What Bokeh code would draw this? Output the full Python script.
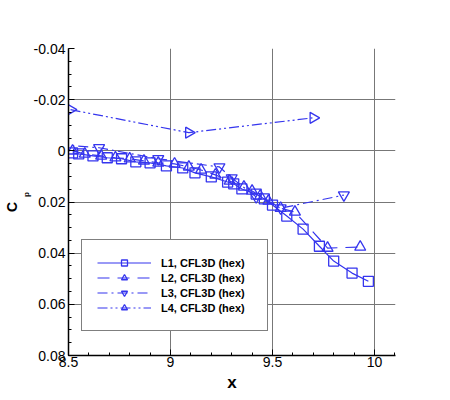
import numpy as np
from bokeh.plotting import figure
from bokeh.models import Range1d, FixedTicker, Legend, LegendItem, Title
from bokeh.embed import file_html
from bokeh.resources import INLINE

# ---- data ----
L1_x = [8.52, 8.55, 8.62, 8.69, 8.76, 8.83, 8.90, 8.98, 9.06, 9.12, 9.20, 9.28,
        9.31, 9.35, 9.42, 9.46, 9.50, 9.57, 9.65, 9.73, 9.80, 9.89, 9.97]
L1_y = [0.0008, 0.0012, 0.0020, 0.0027, 0.0031, 0.0043, 0.0047, 0.0059, 0.0067,
        0.0086, 0.0102, 0.0122, 0.0129, 0.0149, 0.0169, 0.0188, 0.0212, 0.0255,
        0.0306, 0.0373, 0.0431, 0.0478, 0.0510]

L2_x = [8.52, 8.58, 8.66, 8.73, 8.80, 8.87, 8.94, 9.02, 9.09, 9.15, 9.22, 9.29,
        9.36, 9.40, 9.44, 9.48, 9.54, 9.61, 9.77, 9.93]
L2_y = [0.0000, 0.0012, 0.0020, 0.0027, 0.0031, 0.0039, 0.0047, 0.0051, 0.0063,
        0.0075, 0.0094, 0.0118, 0.0141, 0.0157, 0.0176, 0.0196, 0.0224, 0.0239,
        0.0380, 0.0376]

L3_x = [8.45, 8.65, 8.94, 9.24, 9.30, 9.42, 9.54, 9.85]
L3_y = [-0.0024, -0.0012, 0.0031, 0.0063, 0.0106, 0.0180, 0.0224, 0.0173]

L4_x = [8.51, 9.09, 9.70]
L4_y = [-0.0161, -0.0071, -0.0129]

series_names = ["L1, CFL3D (hex)", "L2, CFL3D (hex)", "L3, CFL3D (hex)", "L4, CFL3D (hex)"]

x_ticks = [8.5, 9.0, 9.5, 10.0]
x_tick_labels = ["8.5", "9", "9.5", "10"]
y_ticks = [-0.04, -0.02, 0.0, 0.02, 0.04, 0.06, 0.08]
y_tick_labels = ["-0.04", "-0.02", "0", "0.02", "0.04", "0.06", "0.08"]
x_minor = [round(v, 2) for v in np.arange(8.5, 10.11, 0.1)]
y_minor = [round(v, 4) for v in np.arange(-0.04, 0.0801, 0.005)]

x_label = "x"
y_label_main = "C"
y_label_sub = "p"

BLUE = "#3535ee"
FONT = "Liberation Sans"

p = figure(frame_width=327, frame_height=307,
           x_range=Range1d(8.5, 10.103), y_range=Range1d(0.08, -0.04),
           output_backend="svg", toolbar_location=None,
           min_border_left=68, min_border_right=47,
           min_border_top=48, min_border_bottom=37)
p.outline_line_color = None
p.background_fill_color = "white"
p.border_fill_color = "white"

p.xaxis.ticker = FixedTicker(ticks=x_ticks, minor_ticks=x_minor)
p.yaxis.ticker = FixedTicker(ticks=y_ticks, minor_ticks=y_minor)
p.xgrid.ticker = FixedTicker(ticks=x_ticks)
p.ygrid.ticker = FixedTicker(ticks=y_ticks)
p.grid.grid_line_color = "#777777"
p.grid.grid_line_width = 1

for ax in (p.xaxis[0], p.yaxis[0]):
    ax.axis_line_color = "black"
    ax.axis_line_width = 1.5
    ax.major_tick_in = 6
    ax.major_tick_out = 0
    ax.minor_tick_in = 3
    ax.minor_tick_out = 0
    ax.major_tick_line_color = "black"
    ax.minor_tick_line_color = "black"
    ax.major_label_text_font = FONT
    ax.major_label_text_font_size = "14px"
    ax.major_label_text_color = "black"
p.xaxis.major_label_overrides = dict(zip(x_ticks, x_tick_labels))
p.yaxis.major_label_overrides = dict(zip(y_ticks, y_tick_labels))
p.xaxis.major_label_standoff = 1
p.yaxis.major_label_standoff = 3

p.xaxis.axis_label = x_label
p.xaxis.axis_label_text_font = FONT
p.xaxis.axis_label_text_font_style = "bold"
p.xaxis.axis_label_text_font_size = "17px"
p.xaxis.axis_label_text_color = "black"
p.xaxis.axis_label_standoff = 3

# y title: "C" with subscript "p", as two stacked side titles.
# With align="left" on the left side, offset = distance from the frame bottom.
p.add_layout(Title(text=y_label_sub, align="left", offset=158.5, standoff=0,
                   text_font=FONT, text_font_style="bold",
                   text_font_size="8px", text_color="black"), "left")
p.add_layout(Title(text=y_label_main, align="left", offset=143.5, standoff=0,
                   text_font=FONT, text_font_style="bold",
                   text_font_size="14px", text_color="black"), "left")

series = [
    (series_names[0], L1_x, L1_y, "solid", "square", 0.0, 10),
    (series_names[1], L2_x, L2_y, "12 8", "triangle", 0.0, 11),
    (series_names[2], L3_x, L3_y, "10 4 2 4", "inverted_triangle", 0.0, 11),
    (series_names[3], L4_x, L4_y, "10 3 2 3 2 3", "triangle", -np.pi / 2, 11),
]

items = []
for name, xs, ys, dash, marker, ang, sz in series:
    rl = p.line(xs, ys, line_color=BLUE, line_width=1.2, line_dash=dash)
    rm = p.scatter(xs, ys, marker=marker, angle=ang, size=sz,
                   line_color=BLUE, fill_color=None, line_width=1.3)
    items.append(LegendItem(label=name, renderers=[rl, rm]))

legend = Legend(items=items, location=(13, 24))
legend.border_line_color = "black"
legend.border_line_width = 1
legend.background_fill_color = "white"
legend.background_fill_alpha = 1.0
legend.label_text_font = FONT
legend.label_text_font_style = "bold"
legend.label_text_font_size = "11px"
legend.label_text_color = "black"
legend.glyph_width = 54
legend.glyph_height = 15
legend.label_height = 15
legend.label_width = 91
legend.spacing = 0
legend.padding = 15
legend.margin = 0
legend.label_standoff = 10
p.add_layout(legend)

open("out.html", "w").write(file_html(p, INLINE))
